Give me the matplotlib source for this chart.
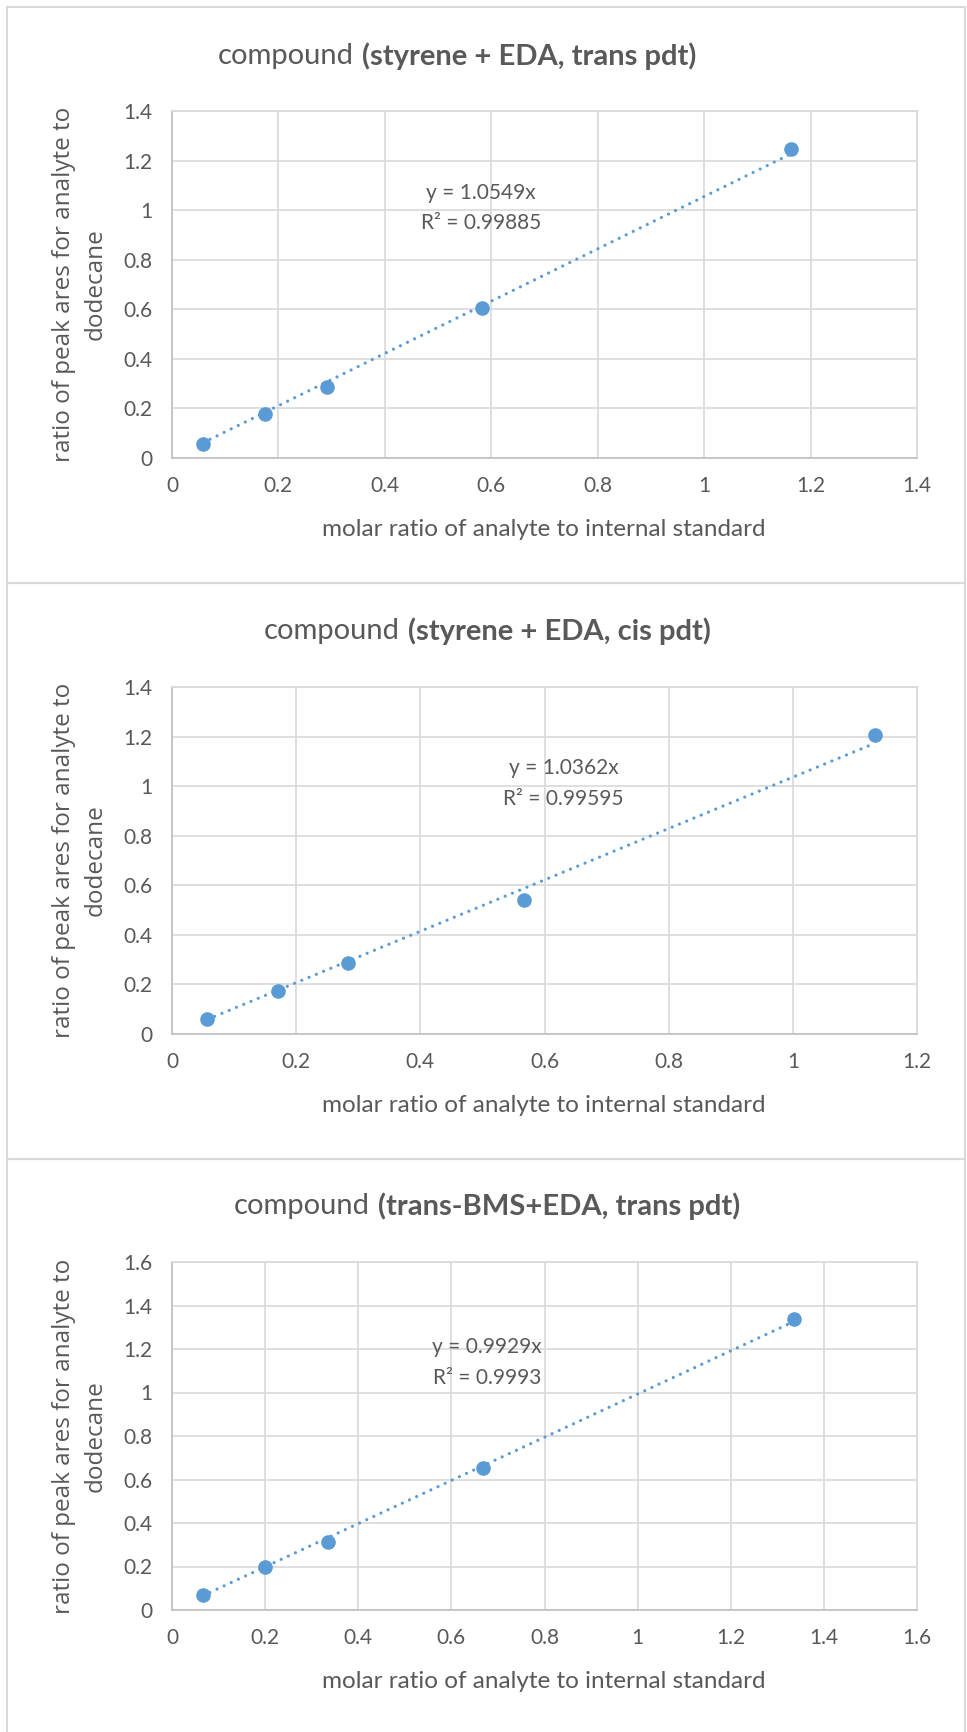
import numpy as np
import matplotlib
matplotlib.use('Agg')
import matplotlib.pyplot as plt
from matplotlib.patches import Rectangle

plt.rcParams['font.family'] = ['Lato', 'DejaVu Sans']

# data
titles = ['(styrene + EDA, trans pdt)', '(styrene + EDA, cis pdt)', '(trans-BMS+EDA, trans pdt)']
x1 = [0.0582, 0.1746, 0.291, 0.582, 1.164]
y1 = [0.056, 0.178, 0.287, 0.606, 1.245]
x2 = [0.057, 0.170, 0.283, 0.567, 1.133]
y2 = [0.059, 0.172, 0.285, 0.541, 1.206]
x3 = [0.066, 0.199, 0.334, 0.668, 1.335]
y3 = [0.068, 0.196, 0.314, 0.652, 1.337]
slopes = [1.0549, 1.0362, 0.9929]
r2_labels = ['0.99885', '0.99595', '0.9993']
xmax = [1.4, 1.2, 1.6]
ymax = [1.4, 1.4, 1.6]
eq_pos = [(0.58, 1.07, 0.95), (0.631, 1.073, 0.947), (0.676, 1.21, 1.066)]

W, H = 967, 1732
blue = '#5B9BD5'
grey_txt = '#595959'
grid_c = '#D9D9D9'

fig = plt.figure(figsize=(W / 100, H / 100), dpi=100)

# panel frames (pixels: top, bottom)
frames = [(7, 583), (583, 1159), (1159, 1740)]
for top, bot in frames:
    fig.patches.append(Rectangle((7 / W, 1 - bot / H), (965 - 7) / W, (bot - top) / H,
                                 transform=fig.transFigure, fill=False,
                                 edgecolor=grid_c, lw=1.5))

# plot areas in pixels: (top, bottom), title y, xlabel y, title centre x
areas = [(111, 458, 56, 529, 457), (687, 1034, 631, 1105, 487), (1262, 1610, 1206, 1681, 487)]
xs = [x1, x2, x3]
ys = [y1, y2, y3]

renderer = fig.canvas.get_renderer()

for i in range(3):
    top, bot, ty, lx, tcx = areas[i]
    ax = fig.add_axes([172 / W, 1 - bot / H, 745 / W, (bot - top) / H])
    ax.set_xlim(0, xmax[i])
    ax.set_ylim(0, ymax[i])
    xt = np.arange(0, xmax[i] + 0.01, 0.2)
    yt = np.arange(0, ymax[i] + 0.01, 0.2)
    ax.set_xticks(xt)
    ax.set_yticks(yt)
    ax.set_xticklabels(['%g' % round(v, 1) for v in xt])
    ax.set_yticklabels(['%g' % round(v, 1) for v in yt])
    ax.grid(True, color=grid_c, lw=1.2)
    ax.set_axisbelow(True)
    for s in ax.spines.values():
        s.set_color(grid_c)
        s.set_linewidth(1.2)
    ax.spines['bottom'].set_color('#BFBFBF')
    ax.spines['left'].set_color('#BFBFBF')
    ax.tick_params(length=0, labelsize=15, colors=grey_txt)
    ax.tick_params(axis='x', pad=13)
    ax.tick_params(axis='y', pad=14)

    xd = np.array(xs[i])
    xl = np.array([xd.min(), xd.max()])
    ax.plot(xl, slopes[i] * xl, color=blue, lw=2.3, linestyle=(0, (0.01, 2.45)),
            dash_capstyle='round')
    ax.plot(xd, ys[i], 'o', color=blue, ms=9.5, zorder=3)

    ex, ey1, ey2 = eq_pos[i]
    ax.text(ex, ey1, 'y = %gx' % slopes[i], ha='center', va='center',
            fontsize=15, color=grey_txt)
    ax.text(ex, ey2, 'R² = ' + r2_labels[i], ha='center', va='center',
            fontsize=15, color=grey_txt)

    fig.text(80 / W, 1 - (top + bot) / 2 / H,
             'ratio of peak ares for analyte to\ndodecane', rotation=90,
             ha='center', va='center', multialignment='center', fontsize=17.5,
             color=grey_txt, family=['Open Sans', 'DejaVu Sans'], linespacing=1.45)
    fig.text(544 / W, 1 - lx / H, 'molar ratio of analyte to internal standard',
             ha='center', va='center', fontsize=17.5, color=grey_txt)

    # title: regular + bold parts, centred together
    t1 = fig.text(0, 1 - ty / H, 'compound', ha='left', va='center',
                  fontsize=21, color=grey_txt)
    t2 = fig.text(0, 1 - ty / H, titles[i], ha='left', va='center',
                  fontsize=21, color=grey_txt, weight='bold')
    w1 = t1.get_window_extent(renderer).width
    w2 = t2.get_window_extent(renderer).width
    gap = 8
    x0 = tcx - (w1 + gap + w2) / 2
    t1.set_x(x0 / W)
    t2.set_x((x0 + w1 + gap) / W)

fig.savefig('out.png', dpi=100, facecolor='white')
